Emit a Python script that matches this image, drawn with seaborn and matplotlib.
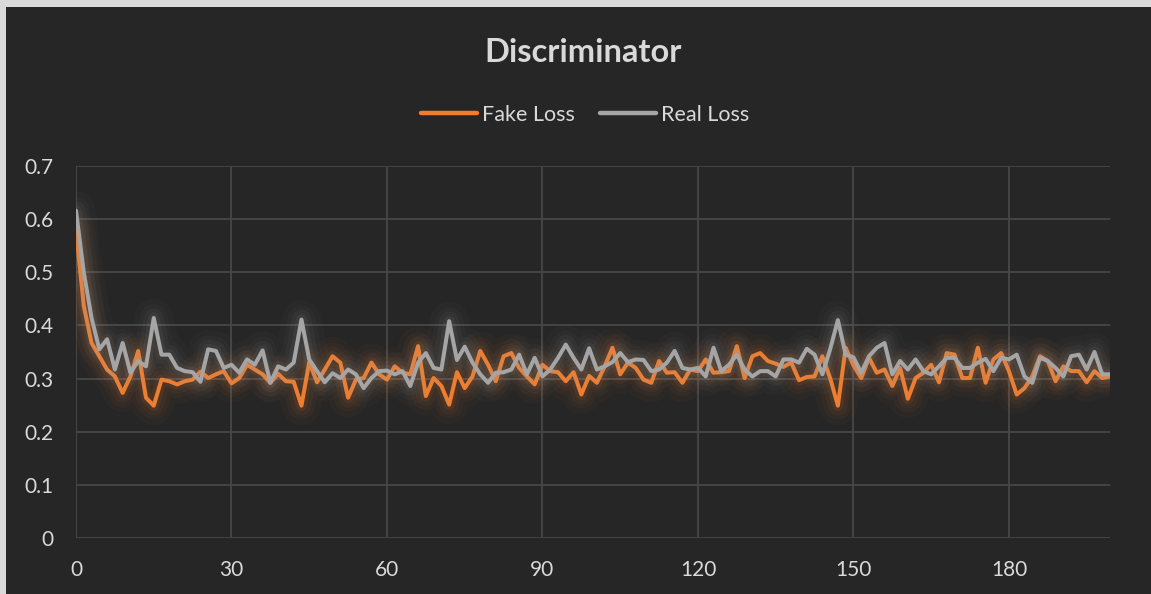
import numpy as np
import pandas as pd
import matplotlib
matplotlib.use('Agg')
import matplotlib.pyplot as plt
import seaborn as sns
from matplotlib import patheffects as pe
from matplotlib.lines import Line2D
from matplotlib.patches import Rectangle

# values (one point every 1.5 epochs)
fake_loss = [0.580, 0.437, 0.367, 0.342, 0.317, 0.304, 0.273, 0.304, 0.352, 0.264,
             0.249, 0.298, 0.295, 0.289, 0.295, 0.298, 0.313, 0.301, 0.308, 0.314,
             0.291, 0.301, 0.326, 0.317, 0.308, 0.292, 0.309, 0.295, 0.294, 0.249,
             0.331, 0.293, 0.317, 0.342, 0.330, 0.264, 0.298, 0.301, 0.330, 0.308,
             0.298, 0.323, 0.311, 0.308, 0.361, 0.267, 0.301, 0.286, 0.251, 0.312,
             0.282, 0.304, 0.352, 0.326, 0.295, 0.342, 0.348, 0.320, 0.304, 0.289,
             0.326, 0.314, 0.312, 0.295, 0.312, 0.270, 0.305, 0.292, 0.323, 0.358,
             0.308, 0.330, 0.320, 0.298, 0.292, 0.333, 0.311, 0.312, 0.292, 0.317,
             0.314, 0.336, 0.311, 0.312, 0.314, 0.361, 0.301, 0.342, 0.348, 0.333,
             0.328, 0.322, 0.330, 0.297, 0.303, 0.304, 0.342, 0.301, 0.249, 0.358,
             0.325, 0.301, 0.339, 0.311, 0.317, 0.286, 0.320, 0.262, 0.301, 0.311,
             0.326, 0.293, 0.348, 0.345, 0.301, 0.301, 0.358, 0.292, 0.336, 0.348,
             0.314, 0.270, 0.282, 0.304, 0.342, 0.333, 0.295, 0.323, 0.314, 0.314,
             0.293, 0.314, 0.301, 0.304]
real_loss = [0.616, 0.500, 0.414, 0.355, 0.374, 0.317, 0.367, 0.311, 0.333, 0.323,
             0.414, 0.345, 0.345, 0.320, 0.314, 0.312, 0.294, 0.355, 0.352, 0.320,
             0.326, 0.311, 0.336, 0.326, 0.353, 0.292, 0.323, 0.317, 0.330, 0.411,
             0.336, 0.314, 0.293, 0.310, 0.301, 0.317, 0.308, 0.282, 0.301, 0.314,
             0.315, 0.308, 0.314, 0.286, 0.330, 0.348, 0.320, 0.317, 0.408, 0.335,
             0.360, 0.330, 0.308, 0.292, 0.311, 0.312, 0.317, 0.345, 0.308, 0.339,
             0.304, 0.317, 0.339, 0.364, 0.339, 0.317, 0.357, 0.317, 0.323, 0.331,
             0.348, 0.331, 0.336, 0.335, 0.314, 0.317, 0.330, 0.352, 0.320, 0.317,
             0.320, 0.304, 0.358, 0.314, 0.326, 0.345, 0.317, 0.304, 0.314, 0.314,
             0.304, 0.336, 0.336, 0.330, 0.356, 0.345, 0.308, 0.355, 0.410, 0.345,
             0.340, 0.311, 0.342, 0.358, 0.367, 0.308, 0.333, 0.317, 0.336, 0.314,
             0.308, 0.323, 0.339, 0.339, 0.320, 0.320, 0.330, 0.337, 0.314, 0.339,
             0.336, 0.345, 0.304, 0.292, 0.339, 0.333, 0.320, 0.304, 0.342, 0.345,
             0.317, 0.350, 0.308, 0.308]
epochs = np.arange(len(fake_loss)) * 1.5

series_names = ['Fake Loss', 'Real Loss']
colors = ['#ED7D31', '#A5A5A5']
xticks = [0, 30, 60, 90, 120, 150, 180]
yticks = [0, 0.1, 0.2, 0.3, 0.4, 0.5, 0.6, 0.7]
ytick_labels = ['0', '0.1', '0.2', '0.3', '0.4', '0.5', '0.6', '0.7']

df = pd.DataFrame({
    'epoch': np.concatenate([epochs, epochs]),
    'loss': fake_loss + real_loss,
    'series': [series_names[0]] * len(fake_loss) + [series_names[1]] * len(real_loss),
})

sns.set_style('dark')
plt.rcParams['font.family'] = ['Lato', 'DejaVu Sans']
txt = '#D9D9D9'
bg = '#262626'

fig = plt.figure(figsize=(11.51, 5.94), dpi=100)
fig.patch.set_facecolor('#D9D9D9')
fig.add_artist(Rectangle((6 / 1151, 0), 1, 1 - 7 / 594, transform=fig.transFigure,
                         facecolor=bg, edgecolor='none', zorder=-5))

ax = fig.add_axes([76 / 1151, 1 - 538 / 594, (1110 - 76) / 1151, (538 - 166) / 594])
ax.set_facecolor(bg)

sns.lineplot(data=df, x='epoch', y='loss', hue='series', hue_order=series_names,
             palette=colors, linewidth=2.9, legend=False, ax=ax, zorder=3)

for line, c in zip(ax.get_lines(), colors):
    line.set_solid_joinstyle('round')
    line.set_solid_capstyle('round')
    line.set_path_effects([pe.Stroke(linewidth=w, foreground=c, alpha=a)
                           for w, a in [(28, 0.03), (20, 0.04), (14, 0.055), (8, 0.08)]]
                          + [pe.Normal()])

ax.set_xlim(0, 199.5)
ax.set_ylim(0, 0.7)
ax.set_xticks(xticks)
ax.set_yticks(yticks)
ax.set_yticklabels(ytick_labels)
ax.grid(True, color='#474747', linewidth=1.3)
ax.set_axisbelow(True)
for s in ax.spines.values():
    s.set_visible(False)
ax.tick_params(axis='both', length=0, labelsize=15, labelcolor=txt)
ax.tick_params(axis='y', pad=16)
ax.tick_params(axis='x', pad=16)
ax.set_xlabel('')
ax.set_ylabel('')

fig.text(583 / 1151, 1 - 53 / 594, 'Discriminator', ha='center', va='center',
         fontsize=23.5, fontweight='bold', color=txt)

handles = [Line2D([0], [0], color=c, linewidth=3.2, solid_capstyle='round') for c in colors]
fig.legend(handles, series_names, loc='center', bbox_to_anchor=(585 / 1151, 1 - 115 / 594),
           ncol=2, frameon=False, fontsize=15.5, labelcolor=txt, handlelength=2.6,
           handletextpad=0.2, columnspacing=1.2)

fig.savefig('out.png', dpi=100, facecolor=fig.get_facecolor())
